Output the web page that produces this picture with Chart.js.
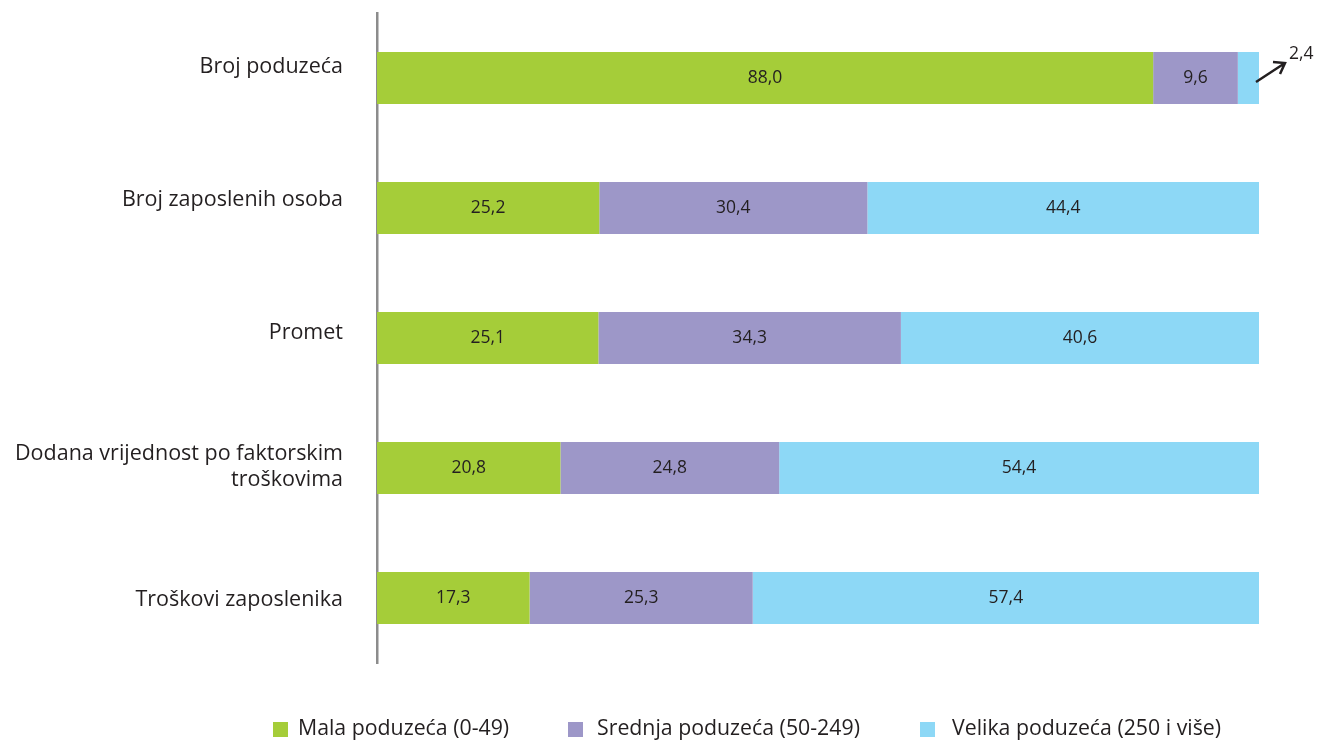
<!DOCTYPE html>
<html>
<head>
<meta charset="utf-8">
<script src="https://cdn.jsdelivr.net/npm/chart.js@4"></script>
<style>
  html, body { margin: 0; padding: 0; background: #fff; }
  #wrap { width: 1322px; height: 740px; }
</style>
</head>
<body>
<div id="wrap"><canvas id="myChart" width="1322" height="740"></canvas></div>
<script>
const categories = ['Broj poduzeća', 'Broj zaposlenih osoba', 'Promet',
  ['Dodana vrijednost po faktorskim', 'troškovima'], 'Troškovi zaposlenika'];
const seriesNames = ['Mala poduzeća (0-49)', 'Srednja poduzeća (50-249)', 'Velika poduzeća (250 i više)'];
const mala = [88.0, 25.2, 25.1, 20.8, 17.3];
const srednja = [9.6, 30.4, 34.3, 24.8, 25.3];
const velika = [2.4, 44.4, 40.6, 54.4, 57.4];

const colors = ['#a5cd39', '#9d97c8', '#8dd8f6'];
const fontFam = '"Open Sans", sans-serif';

function fmt(v) { return v.toFixed(1).replace('.', ','); }

// values inside bars, the small one outside with an arrow
const labelPlugin = {
  id: 'barLabels',
  afterDatasetsDraw(chart) {
    const ctx = chart.ctx;
    ctx.save();
    ctx.font = '17.5px ' + fontFam;
    ctx.fillStyle = '#231f20';
    ctx.textAlign = 'center';
    ctx.textBaseline = 'middle';
    chart.data.datasets.forEach(function(ds, i) {
      chart.getDatasetMeta(i).data.forEach(function(bar, j) {
        const v = ds.data[j];
        if (v < 5) {
          // arrow pointing out to the label
          const x0 = bar.x - 3, y0 = bar.y + 4;
          const x1 = x0 + 29, y1 = y0 - 19;
          ctx.strokeStyle = '#231f20';
          ctx.lineWidth = 2.5;
          ctx.beginPath();
          ctx.moveTo(x0, y0);
          ctx.lineTo(x1, y1);
          ctx.moveTo(x1 - 12, y1 - 1);
          ctx.lineTo(x1, y1);
          ctx.lineTo(x1 - 5, y1 + 11);
          ctx.stroke();
          ctx.textAlign = 'left';
          ctx.fillText(fmt(v), x1 + 4, y1 - 9);
          ctx.textAlign = 'center';
        } else {
          ctx.fillText(fmt(v), (bar.x + bar.base) / 2, bar.y);
        }
      });
    });
    ctx.restore();
  }
};

const legendPlugin = {
  id: 'bottomLegend',
  afterDraw(chart) {
    const ctx = chart.ctx;
    const boxX = [273, 568, 920];
    const textX = [298, 597, 952];
    ctx.save();
    ctx.font = '21.3px ' + fontFam;
    ctx.textBaseline = 'middle';
    chart.data.datasets.forEach(function(ds, i) {
      ctx.fillStyle = ds.backgroundColor;
      ctx.fillRect(boxX[i], 722, 15, 15);
      ctx.fillStyle = '#231f20';
      ctx.fillText(ds.label, textX[i], 729);
    });
    ctx.restore();
  }
};

Chart.defaults.font.family = fontFam;
Chart.defaults.color = '#231f20';

const ctx = document.getElementById('myChart');
new Chart(ctx, {
  type: 'bar',
  data: {
    labels: categories,
    datasets: [
      { label: seriesNames[0], data: mala, backgroundColor: colors[0] },
      { label: seriesNames[1], data: srednja, backgroundColor: colors[1] },
      { label: seriesNames[2], data: velika, backgroundColor: colors[2] }
    ]
  },
  options: {
    indexAxis: 'y',
    responsive: false,
    animation: false,
    barPercentage: 0.4,
    categoryPercentage: 1,
    layout: { padding: { left: 0, right: 63, top: 13, bottom: 77 } },
    plugins: {
      legend: { display: false },
      tooltip: { enabled: false }
    },
    scales: {
      x: { stacked: true, min: 0, max: 100, display: false },
      y: { stacked: true, display: false },
      // label axis: category names sit a bit more spread out than the bars
      yl: {
        type: 'linear',
        position: 'left',
        reverse: true,
        offset: false,
        bounds: 'data',
        min: -0.401,
        max: 4.472,
        afterBuildTicks: function(scale) {
          scale.ticks = categories.map(function(c, i) { return { value: i }; });
        },
        grid: { display: false, drawTicks: true, tickLength: 34 },
        border: { display: true, color: '#8c8c8c', width: 2.5 },
        ticks: {
          font: { size: 21.5, lineHeight: 1.2 },
          padding: 0,
          color: '#231f20',
          callback: function(v) { return categories[v]; }
        },
        afterFit: function(scale) { scale.width = 377; }
      }
    }
  },
  plugins: [labelPlugin, legendPlugin]
});
</script>
</body>
</html>
